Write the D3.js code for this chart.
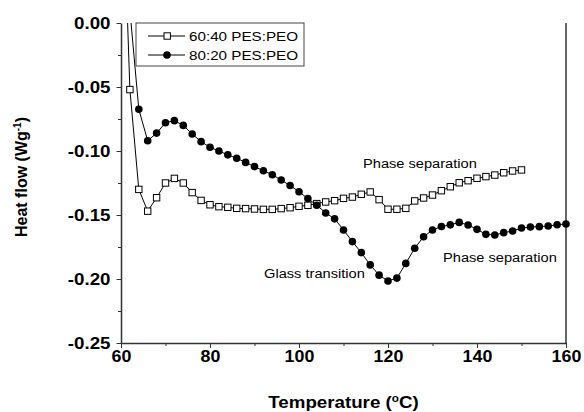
<!DOCTYPE html>
<html lang="en">
<head>
   <title>DSC</title>
   <style type="text/css">
       body{
           margin: 0;
           font-family: "Liberation Sans", Arial, Helvetica;
           background: white;
       }
       .axis path, .axis line{
           stroke: #333;
       }
       .axis path{
           stroke-width: 1.5px;
       }
       .axis text{
           font-size: 16px;
           font-weight: bold;
           fill: black;
       }
       .xaxis text{
           font-size: 17px;
       }
       .curve{
           fill: none;
           stroke: black;
           stroke-width: 1px;
       }
       .note{
           font-size: 12.5px;
       }
       .legend-label{
           font-size: 13px;
       }
       .title{
           font-size: 16px;
           font-weight: bold;
       }
   </style>
</head>
<body>
<script src="https://d3js.org/d3.v7.min.js" charset="utf-8"></script>
<script>
    // temperature (C) and heat flow (W/g)
    var tempA = [60,62,64,66,68,70,72,74,76,78,80,82,84,86,88,90,92,94,96,98,100,
                 102,104,106,108,110,112,114,116,118,120,122,124,126,128,130,
                 132,134,136,138,140,142,144,146,148,150]
    var flowA = [0.15,-0.052,-0.130,-0.147,-0.1365,-0.125,-0.1214,-0.125,-0.1325,-0.1386,-0.142,
                 -0.1435,-0.144,-0.1448,-0.145,-0.1453,-0.1456,-0.1456,-0.145,-0.1443,-0.1432,
                 -0.1424,-0.1411,-0.1398,-0.1388,-0.137,-0.136,-0.1338,-0.132,-0.138,-0.1455,
                 -0.1455,-0.1448,-0.139,-0.1367,-0.1344,-0.131,-0.1279,-0.1248,-0.1232,-0.1213,
                 -0.12,-0.1188,-0.117,-0.1156,-0.1148]

    var tempB = [62,64,66,68,70,72,74,76,78,80,82,84,86,88,90,92,94,96,98,100,
                 102,104,106,108,110,112,114,116,118,120,122,124,126,128,130,
                 132,134,136,138,140,142,144,146,148,150,152,154,156,158,160]
    var flowB = [0.01,-0.0674,-0.092,-0.086,-0.0779,-0.0763,-0.080,-0.0867,-0.0927,-0.0971,
                 -0.100,-0.103,-0.1057,-0.1089,-0.1122,-0.1154,-0.1185,-0.1227,-0.127,-0.1318,
                 -0.1372,-0.1424,-0.1484,-0.153,-0.1617,-0.1708,-0.1794,-0.189,-0.197,-0.2016,
                 -0.1993,-0.1878,-0.176,-0.167,-0.1617,-0.159,-0.1577,-0.1558,-0.1578,-0.1612,
                 -0.1651,-0.1656,-0.1638,-0.1625,-0.1602,-0.1594,-0.1591,-0.1586,-0.1576,-0.157]

    var seriesNames = ['60:40 PES:PEO', '80:20 PES:PEO']
    var xTicks = [60, 80, 100, 120, 140, 160]
    var xMinor = [70, 90, 110, 130, 150]
    var yTicks = [0, -0.05, -0.10, -0.15, -0.20, -0.25]
    var yMinor = [-0.025, -0.075, -0.125, -0.175, -0.225]

    var SX = 1.17   // the picture is a bit wider than tall

    function stretch(sel, k) {
        sel.each(function() {
            var w = this.getComputedTextLength()
            d3.select(this).attr('textLength', w * k).attr('lengthAdjust', 'spacingAndGlyphs')
        })
    }

    var L = 121, R = 566, T = 23, B = 343

    var svg = d3.select('body')
        .append('svg')
            .attr('width', 584)
            .attr('height', 412)

    var x = d3.scaleLinear().domain([60, 160]).range([L, R])
    var y = d3.scaleLinear().domain([-0.25, 0]).range([B, T])

    svg.append('clipPath').attr('id', 'clip')
        .append('rect')
            .attr('x', L - 10).attr('y', T)
            .attr('width', R - L + 20).attr('height', B - T)

    // axes
    var xAxis = svg.append('g')
        .attr('class', 'axis xaxis')
        .attr('transform', 'translate(0,' + B + ')')
        .call(d3.axisBottom(x).tickValues(xTicks).tickSize(5).tickSizeOuter(0).tickPadding(2))
    stretch(xAxis.selectAll('text'), 1.05)

    svg.append('g')
        .attr('class', 'axis')
        .attr('transform', 'translate(0,' + B + ')')
        .call(d3.axisBottom(x).tickValues(xMinor).tickSize(3).tickFormat(''))
        .select('path').remove()

    var yAxis = svg.append('g')
        .attr('class', 'axis')
        .attr('transform', 'translate(' + L + ',0)')
        .call(d3.axisLeft(y).tickValues(yTicks).tickSize(4.5).tickSizeOuter(0).tickPadding(6)
            .tickFormat(d3.format('.2f')))
    yAxis.selectAll('text').text(function(d) { return d3.format('.2f')(d).replace('−', '-') })
    stretch(yAxis.selectAll('text'), SX)

    svg.append('g')
        .attr('class', 'axis')
        .attr('transform', 'translate(' + L + ',0)')
        .call(d3.axisLeft(y).tickValues(yMinor).tickSize(3).tickFormat(''))
        .select('path').remove()

    svg.append('line')
        .attr('x1', R).attr('x2', R)
        .attr('y1', T).attr('y2', B)
        .attr('stroke', '#333').attr('stroke-width', 1.5)

    // curves
    var line = d3.line()
        .x(function(d) { return x(d[0]) })
        .y(function(d) { return y(d[1]) })

    var dataA = d3.zip(tempA, flowA)
    var dataB = d3.zip(tempB, flowB)

    var plot = svg.append('g').attr('clip-path', 'url(#clip)')

    plot.append('path').datum(dataA).attr('class', 'curve').attr('d', line)
    plot.append('path').datum(dataB).attr('class', 'curve').attr('d', line)

    plot.selectAll('rect.sq')
        .data(dataA)
        .enter().append('rect')
            .attr('class', 'sq')
            .attr('x', function(d) { return x(d[0]) - 3.2 })
            .attr('y', function(d) { return y(d[1]) - 3.2 })
            .attr('width', 6.4)
            .attr('height', 6.4)
            .attr('fill', 'white')
            .attr('stroke', 'black')
            .attr('stroke-width', 1)

    plot.selectAll('circle.dot')
        .data(dataB)
        .enter().append('circle')
            .attr('class', 'dot')
            .attr('cx', function(d) { return x(d[0]) })
            .attr('cy', function(d) { return y(d[1]) })
            .attr('r', 3.8)
            .attr('fill', 'black')

    // legend
    var legend = svg.append('g')
    legend.append('rect')
        .attr('x', 136).attr('y', 23)
        .attr('width', 168).attr('height', 43)
        .attr('fill', 'white')
        .attr('stroke', '#444')
        .attr('stroke-width', 1)

    var rows = legend.selectAll('g.row')
        .data(seriesNames)
        .enter().append('g')
            .attr('class', 'row')
            .attr('transform', function(d, i) { return 'translate(0,' + (36 + i * 19) + ')' })

    rows.append('line')
        .attr('x1', 148).attr('x2', 185)
        .attr('stroke', 'black').attr('stroke-width', 1)
    rows.filter(function(d, i) { return i === 0 }).append('rect')
        .attr('x', 164).attr('y', -3.2).attr('width', 6.4).attr('height', 6.4)
        .attr('fill', 'white').attr('stroke', 'black')
    rows.filter(function(d, i) { return i === 1 }).append('circle')
        .attr('cx', 167).attr('r', 3.8).attr('fill', 'black')
    var legText = rows.append('text')
        .attr('class', 'legend-label')
        .attr('x', 189)
        .attr('y', 4.6)
        .text(function(d) { return d })
    stretch(legText, SX)

    // notes
    var notes = [
        {t: 'Phase separation', x: 363, y: 168},
        {t: 'Glass transition', x: 264, y: 278},
        {t: 'Phase separation', x: 443, y: 262}
    ]
    var noteText = svg.selectAll('text.note')
        .data(notes)
        .enter().append('text')
            .attr('class', 'note')
            .attr('x', function(d) { return d.x })
            .attr('y', function(d) { return d.y })
            .text(function(d) { return d.t })
    stretch(noteText, SX)

    // axis titles
    var xt = svg.append('text')
        .attr('class', 'title')
        .attr('x', (L + R) / 2)
        .attr('y', 408)
        .attr('text-anchor', 'middle')
    xt.append('tspan').text('Temperature (')
    xt.append('tspan').attr('dy', -6).attr('font-size', 10).text('o')
    xt.append('tspan').attr('dy', 6).text('C)')
    stretch(xt, SX)

    var yt = svg.append('text')
        .attr('class', 'title')
        .attr('transform', 'translate(27,' + 177 + ') rotate(-90)')
        .attr('text-anchor', 'middle')
    yt.append('tspan').text('Heat flow (Wg')
    yt.append('tspan').attr('dy', -6).attr('font-size', 10).text('-1')
    yt.append('tspan').attr('dy', 6).text(')')
</script>
</body>
</html>
